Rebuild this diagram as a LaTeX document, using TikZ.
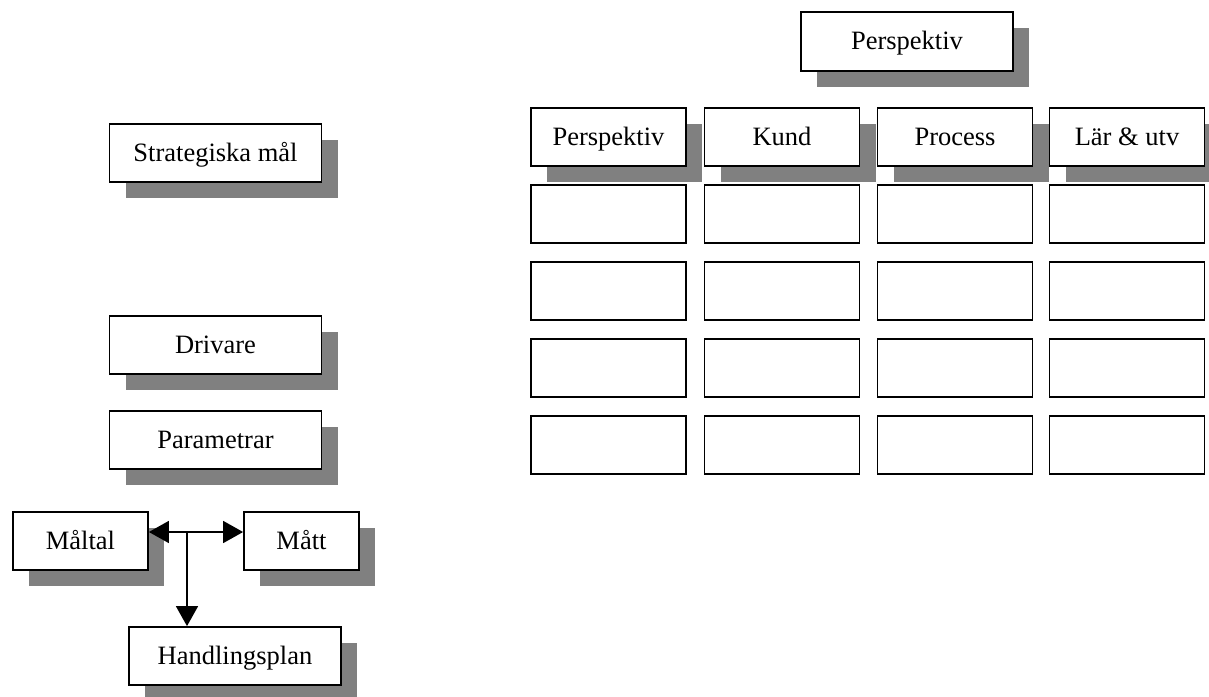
\documentclass[tikz,border=0pt]{standalone}
\usepackage{fontspec}
\setmainfont{Liberation Serif}
\usetikzlibrary{shadows,arrows.meta}

\tikzset{
  box/.style={draw=black, line width=1.8pt, fill=white, inner sep=0pt,
    text height=19pt, text depth=3pt,
    font=\fontsize{26.5}{30}\selectfont},
  shbox/.style={box,
    drop shadow={shadow xshift=16pt, shadow yshift=-16pt, opacity=1, fill=black!50, draw=none}},
  wide/.style={minimum width=212pt, minimum height=58pt},
  cell/.style={minimum width=155pt, minimum height=58pt},
  arr/.style={line width=1.6pt, -{Triangle[length=20pt,width=22pt]}}
}

\begin{document}
\begin{tikzpicture}[x=1pt, y=-1pt]
  \useasboundingbox (0,0) rectangle (1209,696);

  % left column: goals, drivers, parameters
  \node[shbox, wide] (strat) at (215.5,153) {Strategiska mål};
  \node[shbox, wide] (driv)  at (215.5,345) {Drivare};
  \node[shbox, wide] (param) at (215.5,440) {Parametrar};

  % targets, measures and action plan
  \node[shbox, minimum width=135pt, minimum height=58pt] (maltal) at (80.5,541) {Måltal};
  \node[shbox, minimum width=115pt, minimum height=58pt] (matt)   at (301.5,541) {Mått};
  \node[shbox, wide] (handl) at (235,656) {Handlingsplan};

  \coordinate (j) at (187,532);
  \draw[arr] (j) -- (j -| maltal.east);
  \draw[arr] (j) -- (j -| matt.west);
  \draw[arr] (j) -- (j |- handl.north);

  % perspective table
  \node[shbox, minimum width=212pt, minimum height=59pt] (top) at (907,41.5) {Perspektiv};

  \node[shbox, cell] (h1) at (608.5,137) {Perspektiv};
  \node[shbox, cell] (h2) at (782,137) {Kund};
  \node[shbox, cell] (h3) at (955,137) {Process};
  \node[shbox, cell] (h4) at (1127,137) {Lär \& utv};

  \foreach \r/\y in {1/214, 2/291, 3/368, 4/445}{
    \foreach \c/\x in {1/608.5, 2/782, 3/955, 4/1127}{
      \node[box, cell] (c\r\c) at (\x,\y) {};
    }
  }
\end{tikzpicture}
\end{document}
